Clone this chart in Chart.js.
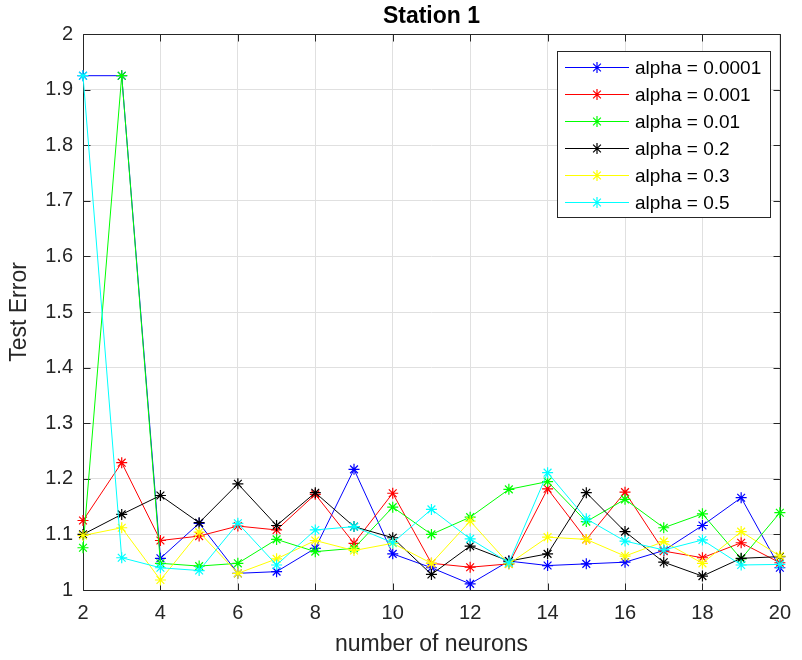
<!DOCTYPE html>
<html>
<head>
<meta charset="utf-8">
<title>Station 1</title>
<script src="https://cdn.jsdelivr.net/npm/chart.js@4.4.1/dist/chart.umd.min.js"></script>
<style>
  html, body { margin: 0; padding: 0; background: #fff; }
  #wrap { width: 802px; height: 660px; }
</style>
</head>
<body>
<div id="wrap"><canvas id="station-chart" width="802" height="660"></canvas></div>
<script>
// start: data
const neurons = [2, 3, 4, 5, 6, 7, 8, 9, 10, 11, 12, 13, 14, 15, 16, 17, 18, 19, 20]
const xTicks = [2, 4, 6, 8, 10, 12, 14, 16, 18, 20]
const yTicks = ['1', '1.1', '1.2', '1.3', '1.4', '1.5', '1.6', '1.7', '1.8', '1.9', '2']

const alpha0001 = [1.925, 1.925, 1.057, 1.120, 1.030, 1.033, 1.075, 1.217, 1.065, 1.040, 1.011, 1.052, 1.044, 1.047, 1.050, 1.071, 1.116, 1.166, 1.040]
const alpha001 = [1.125, 1.229, 1.089, 1.097, 1.115, 1.108, 1.172, 1.084, 1.174, 1.048, 1.041, 1.047, 1.182, 1.091, 1.176, 1.070, 1.058, 1.085, 1.049]
const alpha01 = [1.076, 1.925, 1.048, 1.043, 1.048, 1.091, 1.069, 1.075, 1.149, 1.100, 1.131, 1.181, 1.195, 1.123, 1.163, 1.112, 1.137, 1.056, 1.139]
const alpha2 = [1.100, 1.136, 1.170, 1.121, 1.191, 1.116, 1.175, 1.114, 1.094, 1.028, 1.079, 1.052, 1.065, 1.175, 1.105, 1.050, 1.025, 1.057, 1.060]
const alpha3 = [1.098, 1.112, 1.018, 1.104, 1.030, 1.056, 1.089, 1.071, 1.084, 1.048, 1.124, 1.047, 1.095, 1.091, 1.061, 1.087, 1.048, 1.105, 1.061]
const alpha5 = [1.925, 1.058, 1.040, 1.035, 1.120, 1.045, 1.108, 1.114, 1.085, 1.145, 1.092, 1.049, 1.211, 1.128, 1.088, 1.072, 1.090, 1.045, 1.046]

const seriesLabels = ['alpha = 0.0001', 'alpha = 0.001', 'alpha = 0.01', 'alpha = 0.2', 'alpha = 0.3', 'alpha = 0.5']
const seriesValues = [alpha0001, alpha001, alpha01, alpha2, alpha3, alpha5]
// end: data

const seriesColors = ['#0000ff', '#ff0000', '#00ff00', '#000000', '#ffff00', '#00ffff']
const FONT = "'Liberation Sans', Arial, Helvetica, sans-serif"
const AXIS_COLOR = '#262626'

function makeDataset(label, values, i) {
    return {
        label: label,
        data: neurons.map(function (n, k) { return { x: n, y: values[k] } }),
        borderColor: seriesColors[i],
        backgroundColor: seriesColors[i],
        borderWidth: 1,
        pointStyle: 'star',
        pointRadius: 5.5,
        pointBorderWidth: 1.2,
        pointBorderColor: seriesColors[i],
        tension: 0,
        fill: false,
        clip: false,
        // later series on top, like matlab
        order: seriesLabels.length - i
    }
}

function drawStar(ctx, x, y, r) {
    const d = r * Math.SQRT1_2
    ctx.moveTo(x - r, y); ctx.lineTo(x + r, y)
    ctx.moveTo(x, y - r); ctx.lineTo(x, y + r)
    ctx.moveTo(x - d, y - d); ctx.lineTo(x + d, y + d)
    ctx.moveTo(x - d, y + d); ctx.lineTo(x + d, y - d)
}

// start: box + inward ticks
const axesBox = {
    id: 'axesBox',
    beforeDatasetsDraw(chart) {
        const { ctx, chartArea: a, scales } = chart
        const L = Math.round(a.left) + 0.5, R = Math.round(a.right) + 0.5
        const T = Math.round(a.top) + 0.5, B = Math.round(a.bottom) + 0.5
        ctx.save()
        ctx.strokeStyle = AXIS_COLOR
        ctx.lineWidth = 1
        ctx.beginPath()
        ctx.rect(L, T, R - L, B - T)
        xTicks.forEach(function (v) {
            const px = Math.round(scales.x.getPixelForValue(v)) + 0.5
            ctx.moveTo(px, B); ctx.lineTo(px, B - 7)
            ctx.moveTo(px, T); ctx.lineTo(px, T + 7)
        })
        yTicks.forEach(function (t) {
            const py = Math.round(scales.y.getPixelForValue(Number(t))) + 0.5
            ctx.moveTo(L, py); ctx.lineTo(L + 7, py)
            ctx.moveTo(R, py); ctx.lineTo(R - 7, py)
        })
        ctx.stroke()
        ctx.restore()
    }
}
// end: box + inward ticks

// start: title and legend
const figureText = {
    id: 'figureText',
    afterDraw(chart) {
        const { ctx, chartArea: a } = chart
        ctx.save()
        ctx.fillStyle = '#000'
        ctx.font = 'bold 23px ' + FONT
        ctx.textAlign = 'center'
        ctx.textBaseline = 'middle'
        ctx.fillText('Station 1', (a.left + a.right) / 2, 17)

        // legend box, top right inside the axes
        const bx = 557.5, by = 51.5, bw = 213, bh = 166
        ctx.fillStyle = '#fff'
        ctx.fillRect(bx, by, bw, bh)
        ctx.strokeStyle = AXIS_COLOR
        ctx.lineWidth = 1
        ctx.strokeRect(bx, by, bw, bh)

        ctx.font = '19px ' + FONT
        ctx.textAlign = 'left'
        seriesLabels.forEach(function (label, i) {
            const ry = 67 + i * 27
            ctx.strokeStyle = seriesColors[i]
            ctx.lineWidth = 1
            ctx.beginPath()
            ctx.moveTo(565, ry + 0.5); ctx.lineTo(629, ry + 0.5)
            ctx.stroke()
            ctx.lineWidth = 1.2
            ctx.beginPath()
            drawStar(ctx, 597, ry + 0.5, 5.5)
            ctx.stroke()
            ctx.fillStyle = '#000'
            ctx.fillText(label, 635, ry + 2)
        })
        ctx.restore()
    }
}
// end: title and legend

new Chart(document.getElementById('station-chart'), {
    type: 'line',
    data: {
        datasets: seriesLabels.map(function (label, i) { return makeDataset(label, seriesValues[i], i) })
    },
    options: {
        responsive: false,
        devicePixelRatio: 1,
        animation: false,
        layout: { padding: { top: 34, right: 14, left: 0, bottom: 0 } },
        plugins: {
            legend: { display: false },
            title: { display: false },
            tooltip: { enabled: false }
        },
        scales: {
            x: {
                type: 'linear',
                min: 2,
                max: 20,
                afterBuildTicks: function (scale) {
                    scale.ticks = xTicks.map(function (v) { return { value: v } })
                },
                afterFit: function (scale) { scale.height = 70 },
                grid: { color: '#e0e0e0', drawTicks: false },
                border: { display: false },
                ticks: {
                    padding: 11,
                    color: AXIS_COLOR,
                    maxRotation: 0,
                    font: { family: FONT, size: 20 }
                },
                title: {
                    display: true,
                    text: 'number of neurons',
                    color: AXIS_COLOR,
                    padding: { top: 0, bottom: 2 },
                    font: { family: FONT, size: 23 }
                }
            },
            y: {
                type: 'linear',
                min: 1,
                max: 2,
                afterBuildTicks: function (scale) {
                    scale.ticks = yTicks.map(function (t) { return { value: Number(t) } })
                },
                afterFit: function (scale) { scale.width = 83 },
                grid: { color: '#e0e0e0', drawTicks: false },
                border: { display: false },
                ticks: {
                    padding: 10,
                    color: AXIS_COLOR,
                    font: { family: FONT, size: 20 },
                    callback: function (value) {
                        return yTicks[Math.round((value - 1) * 10)]
                    }
                },
                title: {
                    display: true,
                    text: 'Test Error',
                    color: AXIS_COLOR,
                    padding: { top: 6, bottom: 0 },
                    font: { family: FONT, size: 23 }
                }
            }
        }
    },
    plugins: [axesBox, figureText]
})
</script>
</body>
</html>
